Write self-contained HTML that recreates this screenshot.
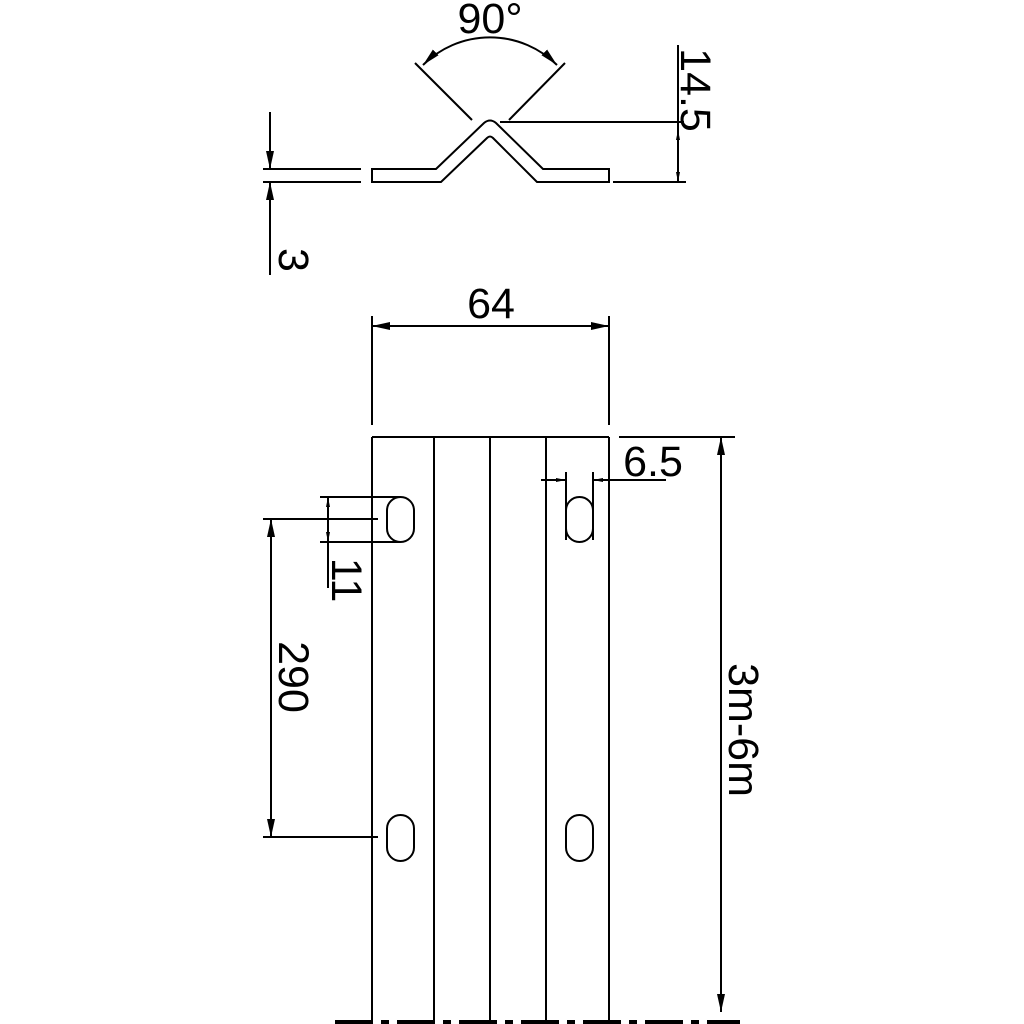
<!DOCTYPE html>
<html><head><meta charset="utf-8"><style>html,body{margin:0;padding:0;background:#fff}svg{display:block}</style></head>
<body>
<svg width="1024" height="1024" viewBox="0 0 1024 1024" xmlns="http://www.w3.org/2000/svg">
<defs>
<marker id="a" viewBox="0 0 10 4" refX="10" refY="2" markerWidth="10" markerHeight="4" markerUnits="userSpaceOnUse" orient="auto-start-reverse"><path d="M0,0 L10,2 L0,4 z" fill="#000"/></marker>
<marker id="b" viewBox="0 0 18 8" refX="18" refY="4" markerWidth="18" markerHeight="8" markerUnits="userSpaceOnUse" orient="auto-start-reverse"><path d="M0,0 L18,4 L0,8 z" fill="#000"/></marker>
</defs>
<g fill="none" stroke="#000" stroke-width="2">
<path d="M372,169 H436 L484,123 Q490,118 496,123 L543,169 H609 V182 H537 L493,138 Q490,135 487,138 L441,182 H372 Z"/>
<line x1="263" y1="169" x2="361" y2="169"/>
<line x1="263" y1="182" x2="361" y2="182"/>
<line x1="270" y1="112" x2="270" y2="169" marker-end="url(#b)"/>
<line x1="270" y1="275" x2="270" y2="182" marker-end="url(#b)"/>
<line x1="415" y1="63" x2="472" y2="120"/>
<line x1="565" y1="63" x2="509" y2="120"/>
<path d="M423,65 A95,95 0 0 1 557,65" marker-start="url(#b)" marker-end="url(#b)"/>
<line x1="500" y1="122" x2="684" y2="122"/>
<line x1="613" y1="182" x2="686" y2="182"/>
<line x1="678" y1="45" x2="678" y2="182"/>
<line x1="678" y1="130" x2="678" y2="182" marker-end="url(#a)" marker-start="url(#a)"/>
<line x1="372" y1="316" x2="372" y2="425"/>
<line x1="609" y1="316" x2="609" y2="425"/>
<line x1="372" y1="326" x2="609" y2="326" marker-start="url(#b)" marker-end="url(#b)"/>
<line x1="372" y1="437" x2="609" y2="437"/>
<line x1="372" y1="437" x2="372" y2="1024"/>
<line x1="434" y1="437" x2="434" y2="1024"/>
<line x1="490" y1="437" x2="490" y2="1024"/>
<line x1="546" y1="437" x2="546" y2="1024"/>
<line x1="609" y1="437" x2="609" y2="1024"/>
<line x1="335" y1="1022" x2="740" y2="1022" stroke-width="4" stroke-dasharray="38,8,8,8"/>
<rect x="387" y="497" width="27" height="45" rx="13.5"/>
<rect x="566" y="497" width="27" height="45" rx="13.5"/>
<rect x="387" y="815" width="27" height="46" rx="13.5"/>
<rect x="566" y="815" width="27" height="46" rx="13.5"/>
<line x1="619" y1="437" x2="735" y2="437"/>
<line x1="721" y1="437" x2="721" y2="1012" marker-start="url(#b)" marker-end="url(#b)"/>
<line x1="566" y1="472" x2="566" y2="540"/>
<line x1="593" y1="472" x2="593" y2="540"/>
<line x1="541" y1="480" x2="566" y2="480" marker-end="url(#a)"/>
<line x1="666" y1="480" x2="593" y2="480" marker-end="url(#a)"/>
<line x1="320" y1="497" x2="400" y2="497"/>
<line x1="320" y1="542" x2="400" y2="542"/>
<line x1="328" y1="497" x2="328" y2="542" marker-start="url(#a)" marker-end="url(#a)"/>
<line x1="328" y1="542" x2="328" y2="588"/>
<line x1="263" y1="519" x2="378" y2="519"/>
<line x1="263" y1="837" x2="378" y2="837"/>
<line x1="271" y1="519" x2="271" y2="837" marker-start="url(#b)" marker-end="url(#b)"/>
</g>
<g font-family="Liberation Sans, sans-serif" font-size="43" fill="#000" text-anchor="middle">
<text x="490" y="33">90°</text>
<text x="491" y="318">64</text>
<text x="653" y="476">6.5</text>
<text transform="translate(681,90) rotate(90)">14.5</text>
<text transform="translate(279,260) rotate(90)">3</text>
<text transform="translate(332,580) rotate(90)">11</text>
<text transform="translate(279,677) rotate(90)">290</text>
<text transform="translate(729,730) rotate(90)">3m-6m</text>
</g>
</svg>
</body></html>
